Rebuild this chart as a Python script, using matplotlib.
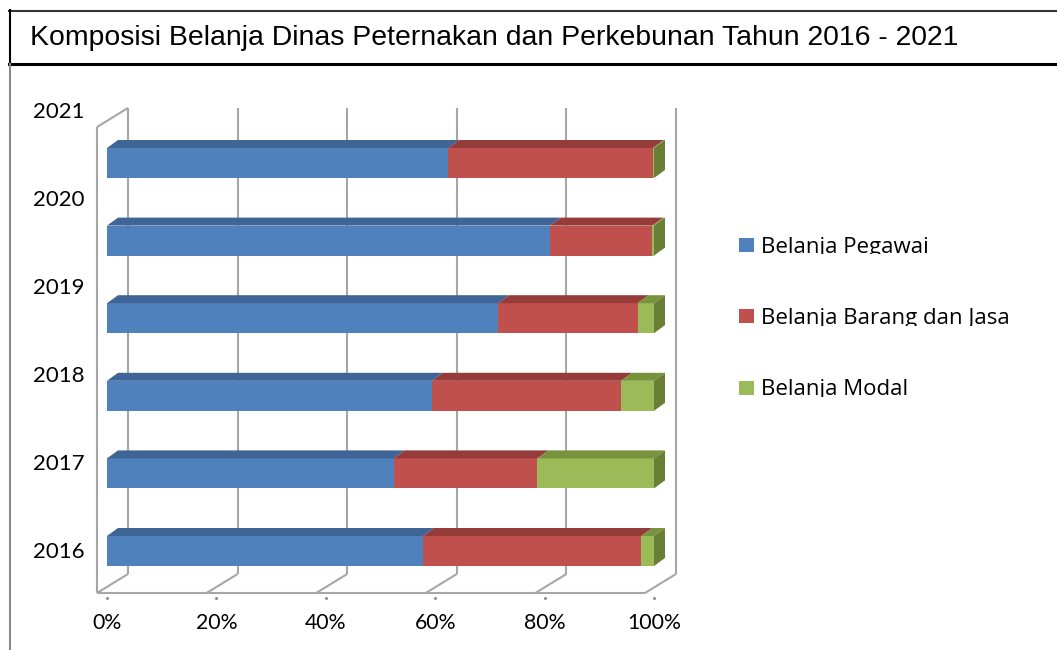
import matplotlib
matplotlib.use("Agg")
import matplotlib.pyplot as plt
from matplotlib.patches import Polygon, Patch
from matplotlib.lines import Line2D
from matplotlib.transforms import Bbox
import numpy as np

# ---------------- data ----------------
years = ["2016", "2017", "2018", "2019", "2020", "2021"]
pegawai = [57.8, 52.4, 59.4, 71.5, 81.0, 62.4]
barang = [39.9, 26.3, 34.6, 25.5, 18.7, 37.4]
modal = [2.3, 21.3, 6.0, 3.0, 0.3, 0.2]
series_names = ["Belanja Pegawai", "Belanja Barang dan Jasa", "Belanja Modal"]
xtick_vals = [0, 20, 40, 60, 80, 100]
xtick_labels = ["0%", "20%", "40%", "60%", "80%", "100%"]
title = "Komposisi Belanja Dinas Peternakan dan Perkebunan Tahun 2016 - 2021"

# ---------------- style ----------------
front_cols = ["#4F81BD", "#C0504D", "#9BBB59"]
top_cols = ["#3E6595", "#953B39", "#77933C"]
side_cols = ["#3A5E8C", "#8C3836", "#687F35"]
grid_col = "#A6A6A6"

W, H = 1057, 650
fig = plt.figure(figsize=(W / 100, H / 100), dpi=100)
fig.patch.set_facecolor("white")

def fx(px):
    return px / W

def fy(py):
    return 1 - py / H

# frame around title and chart
fig.add_artist(Line2D([fx(9), fx(W + 5)], [fy(10.5), fy(10.5)], color="#333333", lw=1.5))
fig.add_artist(Line2D([fx(9), fx(W + 5)], [fy(63.5), fy(63.5)], color="black", lw=2.2))
fig.add_artist(Line2D([fx(9.5), fx(9.5)], [fy(10), fy(64)], color="black", lw=1.5))
fig.add_artist(Line2D([fx(10), fx(10)], [fy(64), fy(H + 5)], color="#8C8C8C", lw=1.5))
fig.text(fx(30), fy(38), title, fontsize=20.4, family="Liberation Sans",
         ha="left", va="center", color="black")

# axes mapping: x 0..100 -> 107..654 px ; category centres 551 (2016) .. 163 (2021)
px_per_pct = 547 / 100
px_per_cat = 77.6
ylo, yhi = -0.6, 5.9
bottom_px = 551 + (-ylo) * px_per_cat
top_px = 551 - yhi * px_per_cat
ax = fig.add_axes([fx(107), fy(bottom_px), 547 / W, (bottom_px - top_px) / H])
ax.set_xlim(0, 100)
ax.set_ylim(ylo, yhi)
for s in ax.spines.values():
    s.set_visible(False)
ax.patch.set_alpha(0)

# 3D geometry (data units)
bar_h = 30 / px_per_cat
bar_dx = 11 / px_per_pct
bar_dy = 8 / px_per_cat
wall_dx = 31 / px_per_pct
wall_dy = 19 / px_per_cat
floor_shift = -10 / px_per_pct
floor_y = (551 - 593) / px_per_cat
wall_top = (551 - 108) / px_per_cat
floor_w = 548 / 547

# walls / floor / gridlines
lkw = dict(color=grid_col, lw=1.5, solid_capstyle="butt", zorder=1, clip_on=False)
for v in xtick_vals:
    xf = floor_shift + v * floor_w
    xb = xf + wall_dx
    ax.plot([xb, xb], [floor_y + wall_dy, wall_top], **lkw)
    ax.plot([xf, xb], [floor_y, floor_y + wall_dy], **lkw)
x_left = floor_shift
x_right = floor_shift + 100 * floor_w
ax.plot([x_left, x_right], [floor_y, floor_y], **lkw)
ax.plot([x_left, x_left], [floor_y, wall_top - wall_dy], **lkw)
ax.plot([x_left, x_left + wall_dx], [wall_top - wall_dy, wall_top], **lkw)
# tiny tick marks
ax.plot(xtick_vals, [floor_y - 5 / px_per_cat] * len(xtick_vals), ls="none",
        marker="s", ms=1.0, color="#888888", clip_on=False, zorder=1)

# bars
ypos = np.arange(len(years))
data = [pegawai, barang, modal]
for i, y in enumerate(ypos):
    left = 0.0
    ytop = y + bar_h / 2
    for k in range(3):
        w = data[k][i]
        ax.barh(y, w, left=left, height=bar_h, color=front_cols[k], edgecolor="none",
                zorder=3, clip_on=False)
        top = Polygon([[left, ytop], [left + w, ytop], [left + w + bar_dx, ytop + bar_dy],
                       [left + bar_dx, ytop + bar_dy]], closed=True,
                      facecolor=top_cols[k], edgecolor="none", zorder=3, clip_on=False)
        ax.add_patch(top)
        left += w
    # right side face of last segment
    side = Polygon([[left, y - bar_h / 2], [left + bar_dx, y - bar_h / 2 + bar_dy],
                    [left + bar_dx, ytop + bar_dy], [left, ytop]], closed=True,
                   facecolor=side_cols[2], edgecolor="none", zorder=3, clip_on=False)
    ax.add_patch(side)

# ticks
ax.set_xticks(xtick_vals)
ax.set_xticklabels(xtick_labels, family="Lato", fontsize=15.3)
label_step = 88 / px_per_cat
ax.set_yticks(ypos * label_step + 0.01)
ax.set_yticklabels(years, family="Lato", fontsize=16)
ax.tick_params(axis="x", length=0, pad=11)
ax.tick_params(axis="y", length=0, pad=16)

# legend
handles = [Patch(facecolor=c, edgecolor="none") for c in front_cols]
leg = fig.legend(handles, series_names, loc="center left",
                 bbox_to_anchor=(fx(739), fy(318.5)), frameon=False,
                 prop={"family": "Open Sans", "size": 16},
                 handlelength=0.675, handleheight=0.585, handletextpad=0.315,
                 labelspacing=2.27, borderpad=0, borderaxespad=0)

# descenders of the legend labels are cut just below the baseline, as in the original
fig.canvas.draw()
renderer = fig.canvas.get_renderer()
for t in leg.get_texts():
    bb = t.get_window_extent(renderer)
    _, _, d = renderer.get_text_width_height_descent(t.get_text(), t.get_fontproperties(), ismath=False)
    base = bb.y0 + d
    t.set_clip_box(Bbox([[bb.x0 - 5, base - 1.6], [bb.x1 + 5, bb.y1 + 5]]))
    t.set_clip_on(True)

fig.savefig("out.png", dpi=100, facecolor="white")
